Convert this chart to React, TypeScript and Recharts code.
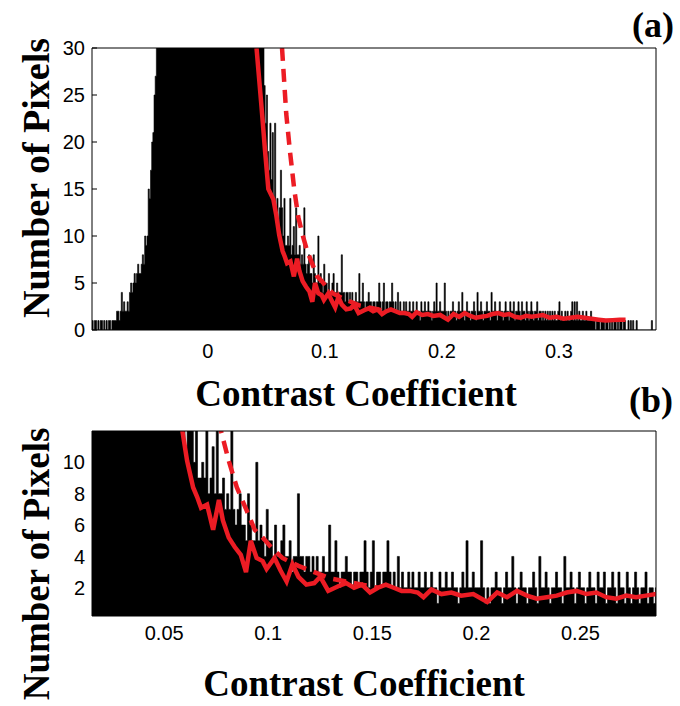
import React from 'react';
import { ComposedChart, Area, Line, XAxis, YAxis } from 'recharts';

// histogram bins: left edge of first bin and bin width
const binStart = -0.099;
const binWidth = 0.001;

// -0.099 .. -0.045
const leftTail = [
  1, 0, 1, 1, 0, 1, 0, 1, 1, 0,
  1, 0, 1, 0, 1, 1, 0, 1, 1, 1,
  1, 2, 2, 1, 2, 4, 2, 3, 2, 2,
  3, 2, 4, 5, 4, 5, 6, 5, 6, 7,
  6, 6, 7, 8, 7, 10, 9, 10, 15, 14,
  17, 20, 21, 25, 27,
];

// -0.044 .. 0.046 (clipped at the top of both panels)
const core = [
  33, 38, 44, 52, 60, 71, 83, 96, 110, 127,
  144, 163, 184, 205, 228, 251, 276, 300, 326, 351,
  377, 402, 426, 450, 472, 494, 514, 532, 549, 564,
  578, 589, 599, 607, 613, 618, 621, 622, 621, 619,
  615, 609, 601, 592, 581, 568, 554, 538, 521, 503,
  484, 463, 442, 420, 398, 375, 352, 329, 306, 284,
  262, 241, 220, 200, 181, 163, 146, 131, 117, 104,
  92, 82, 73, 65, 58, 52, 47, 43, 40, 38,
  36, 35, 34, 33, 33, 32, 32, 31, 31, 31,
  31,
];

// 0.047 .. 0.146
const decay = [
  30, 26, 22, 25, 19, 17, 22, 16, 21, 14,
  22, 12, 14, 11, 13, 17, 13, 10, 14, 9,
  9, 10, 9, 14, 8, 9, 11, 8, 13, 8,
  8, 9, 7, 8, 7, 13, 7, 6, 7, 8,
  6, 6, 5, 8, 6, 5, 5, 10, 5, 6,
  5, 4, 7, 5, 5, 4, 6, 4, 4, 5,
  6, 4, 4, 5, 3, 4, 4, 8, 4, 4,
  3, 4, 4, 3, 4, 3, 4, 3, 3, 4,
  3, 3, 6, 3, 3, 5, 3, 2, 3, 3,
  4, 3, 3, 2, 3, 3, 2, 3, 3, 5,
];

// 0.147 .. 0.285
const plateau = [
  3, 2, 3, 5, 2, 3, 3, 2, 3, 3,
  5, 3, 2, 3, 2, 4, 2, 3, 2, 2,
  3, 2, 3, 2, 2, 3, 2, 2, 3, 2,
  2, 3, 2, 2, 1, 3, 2, 2, 3, 2,
  2, 3, 2, 2, 1, 2, 3, 2, 5, 2,
  2, 3, 2, 2, 2, 5, 2, 1, 2, 1,
  2, 2, 3, 2, 2, 1, 2, 3, 2, 2,
  4, 2, 1, 2, 3, 2, 2, 1, 2, 2,
  3, 2, 1, 4, 2, 2, 3, 2, 1, 2,
  2, 3, 2, 2, 1, 4, 2, 2, 3, 2,
  1, 2, 3, 2, 2, 1, 2, 3, 2, 2,
  1, 3, 2, 2, 3, 1, 2, 2, 3, 2,
  1, 3, 2, 2, 1, 3, 2, 1, 2, 3,
  2, 1, 2, 2, 3, 1, 2, 2, 1,
];

// 0.286 .. 0.382
const farTail = [
  2, 1, 2, 1, 2, 1, 2, 1, 2, 1,
  2, 1, 1, 2, 3, 1, 2, 1, 1, 2,
  1, 2, 1, 1, 2, 3, 1, 3, 1, 3,
  1, 2, 1, 1, 2, 1, 1, 2, 1, 1,
  1, 2, 1, 1, 1, 0, 1, 1, 1, 0,
  1, 1, 1, 0, 1, 1, 0, 1, 0, 1,
  0, 1, 1, 0, 1, 0, 1, 1, 0, 1,
  1, 0, 0, 1, 0, 1, 0, 1, 0, 0,
  1, 0, 0, 0, 0, 0, 0, 0, 0, 0,
  0, 0, 0, 1, 0, 0, 0,
];

// smoothed histogram (solid red)
const smoothX = [
  0.0416, 0.0459, 0.0488, 0.0517, 0.056, 0.0585, 0.061, 0.0639, 0.0658, 0.0677,
  0.0706, 0.0735, 0.0763, 0.0782, 0.081, 0.0839, 0.0868, 0.0893, 0.0916, 0.0944,
  0.0973, 0.0992, 0.103, 0.1059, 0.1088, 0.1116, 0.1145, 0.1183, 0.1221, 0.125,
  0.1288, 0.1336, 0.1374, 0.1412, 0.145, 0.1489, 0.1527, 0.1565, 0.1603, 0.1641,
  0.168, 0.1718, 0.1746, 0.1784, 0.1832, 0.188, 0.1927, 0.1985, 0.2052, 0.21,
  0.2147, 0.2195, 0.2243, 0.229, 0.2338, 0.2386, 0.2433, 0.2481, 0.2529, 0.2576,
  0.2624, 0.2672, 0.272, 0.2767, 0.2815, 0.2863, 0.292, 0.298, 0.304, 0.31,
  0.316, 0.322, 0.328, 0.334, 0.34, 0.346, 0.352, 0.357,
];
const smoothY = [
  30, 23.7, 19.2, 15, 13.9, 12.2, 10.1, 8.4, 7.8, 7.1,
  7.3, 5.7, 7.6, 6.3, 5.2, 4.6, 4.1, 3.0, 5.0, 3.9,
  3.7, 3.2, 3.9, 3.1, 2.4, 3.5, 2.7, 2.2, 2.3, 2.7,
  1.8, 2.1, 2.3, 2.0, 2.2, 1.7, 2.0, 2.2, 2.0, 1.8,
  1.8, 1.7, 1.4, 1.9, 1.6, 1.7, 1.5, 1.6, 1.1, 1.7,
  1.4, 1.8, 1.5, 1.3, 1.4, 1.5, 1.7, 1.8, 1.6, 1.7,
  1.4, 1.3, 1.5, 1.4, 1.5, 1.6, 1.3, 1.4, 1.2, 1.3,
  1.4, 1.3, 1.2, 1.1, 1.0, 1.05, 1.1, 1.1,
];

// fitted curve (dashed red)
const fitX = [
  0.0634, 0.067, 0.0701, 0.0739, 0.0773, 0.081, 0.0849, 0.0897, 0.0935, 0.0973,
  0.102, 0.1068, 0.1145, 0.1221, 0.1298, 0.1374, 0.145, 0.1527,
];
const fitY = [
  30, 23, 19.1, 14.9, 12, 10.1, 8.4, 6.9, 5.7, 5.2,
  4.5, 3.9, 3.4, 3.0, 2.6, 2.4, 2.2, 2.0,
];

const xTicksA = [0, 0.1, 0.2, 0.3];
const yTicksA = [0, 5, 10, 15, 20, 25, 30];
const xTicksB = [0.05, 0.1, 0.15, 0.2, 0.25];
const yTicksB = [2, 4, 6, 8, 10];

const counts = [...leftTail, ...core, ...decay, ...plateau, ...farTail];
const histData = counts.map((n, i) => ({ x: +(binStart + i * binWidth).toFixed(3), n }));
histData.push({ x: +(binStart + counts.length * binWidth).toFixed(3), n: counts[counts.length - 1] });

const smoothData = smoothX.map((x, i) => ({ x, y: smoothY[i] }));
const fitData = fitX.map((x, i) => ({ x, y: fitY[i] }));

const RED = '#ec1c24';
const tickFont = { fill: '#000', fontSize: 20, fontFamily: 'Liberation Sans, Arial, sans-serif' };

// plot box is given directly; axes take fixed sizes around it
function Panel({
  height,
  plotTop,
  plotBottom,
  xDomain,
  yDomain,
  xTicks,
  yTicks,
  xTickGap,
  lineWidth,
}: {
  height: number;
  plotTop: number;
  plotBottom: number;
  xDomain: [number, number];
  yDomain: [number, number];
  xTicks: number[];
  yTicks: number[];
  xTickGap: number;
  lineWidth: number;
}) {
  const plotLeft = 92;
  const plotRight = 656;
  const margin = {
    top: plotTop - 1,
    right: 680 - plotRight - 1,
    bottom: height - plotBottom - 30,
    left: plotLeft - 40,
  };
  return (
    <ComposedChart width={680} height={height} margin={margin}>
      <XAxis
        xAxisId="bottom"
        dataKey="x"
        type="number"
        domain={xDomain}
        ticks={xTicks}
        allowDataOverflow
        height={30}
        tickSize={-5}
        tickMargin={xTickGap}
        stroke="#000"
        tick={tickFont}
      />
      <XAxis
        xAxisId="top"
        orientation="top"
        type="number"
        domain={xDomain}
        ticks={xTicks}
        allowDataOverflow
        height={1}
        tickSize={-5}
        stroke="#000"
        tick={false}
      />
      <YAxis
        yAxisId="left"
        type="number"
        domain={yDomain}
        ticks={yTicks}
        allowDataOverflow
        width={40}
        tickSize={-5}
        tickMargin={12}
        stroke="#000"
        tick={tickFont}
      />
      <YAxis
        yAxisId="right"
        orientation="right"
        type="number"
        domain={yDomain}
        ticks={yTicks}
        allowDataOverflow
        width={1}
        tickSize={-5}
        stroke="#000"
        tick={false}
      />
      <Area
        xAxisId="bottom"
        yAxisId="left"
        data={histData}
        dataKey="n"
        type="stepAfter"
        fill="#000"
        fillOpacity={1}
        stroke="#000"
        strokeWidth={0.6}
        isAnimationActive={false}
      />
      <Line
        xAxisId="bottom"
        yAxisId="left"
        data={smoothData}
        dataKey="y"
        type="linear"
        stroke={RED}
        strokeWidth={lineWidth}
        dot={false}
        isAnimationActive={false}
      />
      <Line
        xAxisId="bottom"
        yAxisId="left"
        data={fitData}
        dataKey="y"
        type="linear"
        stroke={RED}
        strokeWidth={lineWidth}
        strokeDasharray="13 8"
        dot={false}
        isAnimationActive={false}
      />
    </ComposedChart>
  );
}

const titleFont = {
  fontFamily: 'Liberation Serif, Times New Roman, serif',
  fontWeight: 700,
  fill: '#000',
};

export default function App() {
  return (
    <div style={{ position: 'absolute', left: 0, top: 0, width: 680, height: 706, background: '#fff' }}>
      <div style={{ position: 'absolute', left: 0, top: 0 }}>
        <Panel
          height={420}
          plotTop={48}
          plotBottom={330}
          xDomain={[-0.099, 0.383]}
          yDomain={[0, 30]}
          xTicks={xTicksA}
          yTicks={yTicksA}
          xTickGap={19}
          lineWidth={4.5}
        />
      </div>
      <div style={{ position: 'absolute', left: 0, top: 420 }}>
        <Panel
          height={286}
          plotTop={11}
          plotBottom={196}
          xDomain={[0.0153, 0.2863]}
          yDomain={[0.2, 12]}
          xTicks={xTicksB}
          yTicks={yTicksB}
          xTickGap={15}
          lineWidth={4.5}
        />
      </div>
      <svg
        width={680}
        height={706}
        style={{ position: 'absolute', left: 0, top: 0, pointerEvents: 'none' }}
      >
        <text x={653} y={37} textAnchor="middle" fontSize={36} {...titleFont}>(a)</text>
        <text x={356} y={406} textAnchor="middle" fontSize={37} {...titleFont}>Contrast Coefficient</text>
        <text x={651} y={412} textAnchor="middle" fontSize={36} {...titleFont}>(b)</text>
        <text x={364} y={696} textAnchor="middle" fontSize={37} {...titleFont}>Contrast Coefficient</text>
        <text
          x={49}
          y={178}
          transform="rotate(-90 49 178)"
          textAnchor="middle"
          fontSize={38}
          {...titleFont}
        >
          Number of Pixels
        </text>
        <text
          x={49}
          y={564}
          transform="rotate(-90 49 564)"
          textAnchor="middle"
          fontSize={37}
          {...titleFont}
        >
          Number of Pixels
        </text>
      </svg>
    </div>
  );
}
